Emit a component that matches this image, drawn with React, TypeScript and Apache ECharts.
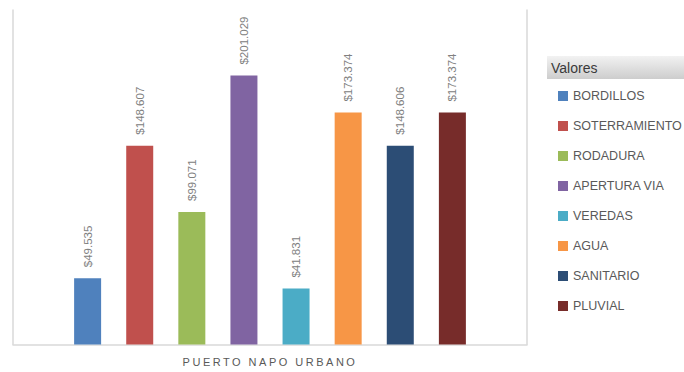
import React, { useEffect, useRef } from "react";
import * as echarts from "echarts";

const categories = ["PUERTO NAPO URBANO"];
const seriesNames = [
  "BORDILLOS",
  "SOTERRAMIENTO",
  "RODADURA",
  "APERTURA VIA",
  "VEREDAS",
  "AGUA",
  "SANITARIO",
  "PLUVIAL",
];
const seriesValues = [49535, 148607, 99071, 201029, 41831, 173374, 148606, 173374];
const seriesColors = [
  "#4F81BD",
  "#C0504D",
  "#9BBB59",
  "#8064A2",
  "#4BACC6",
  "#F79646",
  "#2C4D75",
  "#772C2A",
];
const legendTitle = "Valores";

const fmt = (v: number) => {
  const s = Math.round(v).toString();
  return "$" + s.replace(/\B(?=(\d{3})+(?!\d))/g, ".");
};

export default function App() {
  const ref = useRef<HTMLDivElement>(null);
  useEffect(() => {
    if (!ref.current) return;
    const chart = echarts.init(ref.current, undefined, { renderer: "svg" });
    const yBase = {
      type: "value",
      min: 0,
      max: 250000,
      axisLabel: { show: false },
      axisTick: { show: false },
      splitLine: { show: false },
      axisLine: { show: true, lineStyle: { color: "#d9d9d9", width: 1.5 } },
    };
    chart.setOption({
      animation: false,
      backgroundColor: "#ffffff",
      textStyle: { fontFamily: "Liberation Sans" },
      grid: { left: 13, right: 157, top: 10, bottom: 27.5, containLabel: false },
      xAxis: {
        type: "category",
        data: categories,
        axisTick: { show: false },
        axisLine: { show: true, lineStyle: { color: "#d9d9d9", width: 1.5 } },
        axisLabel: {
          color: "#595958",
          fontSize: 11,
          margin: 12,
          fontFamily: "Liberation Sans",
        },
      },
      yAxis: [
        { ...yBase, position: "left" },
        { ...yBase, position: "right" },
      ],
      legend: {
        orient: "vertical",
        left: 553,
        top: 76,
        itemWidth: 10,
        itemHeight: 10,
        itemGap: 0,
        icon: "rect",
        data: seriesNames,
        textStyle: {
          color: "#595959",
          fontSize: 12.5,
          lineHeight: 30,
          fontFamily: "Liberation Sans",
        },
      },
      graphic: [
        {
          type: "rect",
          shape: { x: 547, y: 56, width: 137, height: 23 },
          style: {
            fill: new echarts.graphic.LinearGradient(0, 0, 0, 1, [
              { offset: 0, color: "#f2f2f2" },
              { offset: 1, color: "#cdcdcd" },
            ]),
          },
          z: 0,
        },
        {
          type: "text",
          x: 551,
          y: 67.5,
          style: {
            text: legendTitle,
            fill: "#3a3a3a",
            fontSize: 14,
            fontFamily: "Liberation Sans",
            verticalAlign: "middle",
          },
          z: 1,
        },
      ],
      series: seriesNames.map((name, i) => ({
        name,
        type: "bar",
        barWidth: 27,
        barGap: "93%",
        itemStyle: { color: seriesColors[i] },
        data: [seriesValues[i]],
        label: {
          show: true,
          position: "top",
          rotate: 90,
          align: "left",
          verticalAlign: "middle",
          distance: 11,
          color: "#808080",
          fontSize: 11.5,
          fontFamily: "Liberation Sans",
          formatter: (p: any) => fmt(p.value),
        },
      })),
    });
    return () => chart.dispose();
  }, []);
  return (
    <>
      <style>{`text[fill="#595958"]{letter-spacing:2.5px;}`}</style>
      <div
        ref={ref}
        style={{ position: "fixed", left: 0, top: 0, width: 684, height: 372 }}
      />
    </>
  );
}
